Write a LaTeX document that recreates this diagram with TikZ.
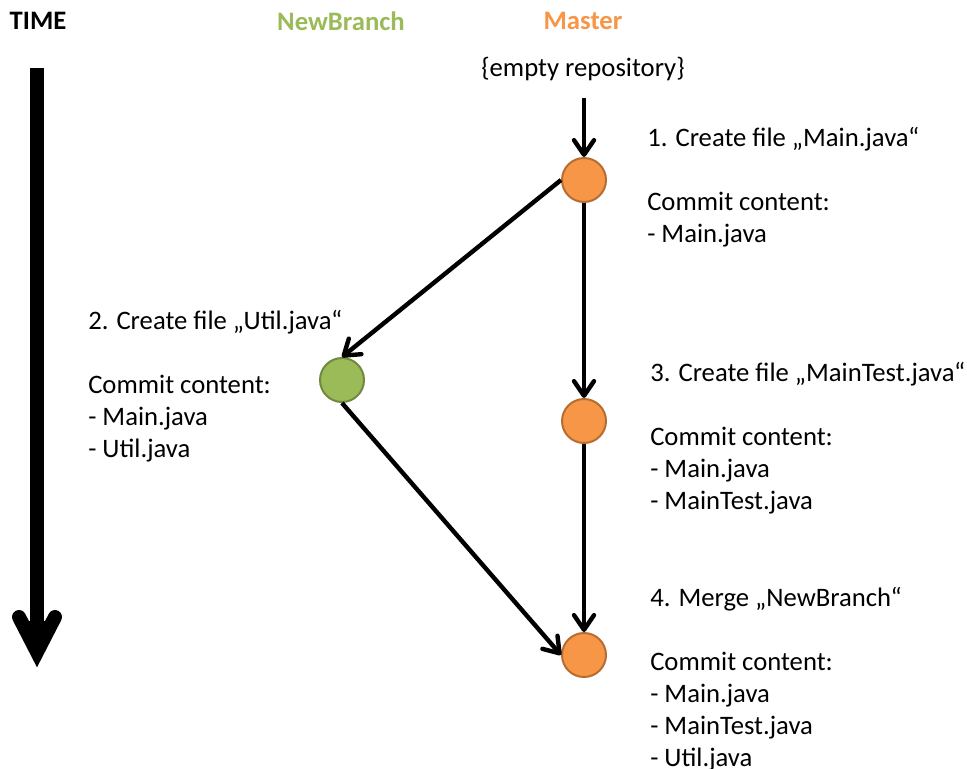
\documentclass[tikz,border=0pt]{standalone}
\usepackage{fontspec}
\setmainfont{Carlito}
\usetikzlibrary{arrows.meta}
\definecolor{mfill}{HTML}{F79646}
\definecolor{mdraw}{HTML}{B66D31}
\definecolor{bfill}{HTML}{9BBB59}
\definecolor{bdraw}{HTML}{71893F}
\newcommand{\commitlines}[1]{\begin{tabular}[t]{@{}l@{}}#1\end{tabular}}
\tikzset{
  txt/.style={inner sep=0pt, font=\fontsize{20}{24}\selectfont},
  head/.style={txt, font=\fontsize{20}{24}\selectfont\bfseries},
  block/.style={txt, anchor=base west},
  commit/.style={circle, minimum size=33pt, inner sep=0pt, line width=1.5pt},
  master/.style={commit, fill=mfill, draw=mdraw},
  branch/.style={commit, fill=bfill, draw=bdraw},
  link/.style={line width=3.3pt, -{Straight Barb[length=11pt,width=15pt,line cap=round,line join=round]}},
}
\begin{document}
\begin{tikzpicture}[x=0.75pt, y=-0.75pt]
\useasboundingbox (0,0) rectangle (967,768);

% column headings
\node[head] (time) at (38,21) {TIME};
\node[head, text=bfill] (hbranch) at (341,21) {NewBranch};
\node[head, text=mfill] (hmaster) at (583,21) {Master};
\node[txt] (empty) at (583,69) {\{empty repository\}};

% time axis
\coordinate (tstart) at (37,68);
\coordinate (tend) at (37,640);
\draw[line width=10.5pt] (tstart) -- (tend);
\draw[line width=10.5pt, line cap=round, miter limit=20] (19,617) -- (37,652) -- (55,617);
\fill (24,621) -- (37,646) -- (50,621) -- cycle;

% commits
\node[master] (c1) at (584,180) {};
\node[branch] (c2) at (342,380) {};
\node[master] (c3) at (584,421) {};
\node[master] (c4) at (584,655) {};

% history
\coordinate (root) at (584,98);
\draw[link] (root) -- (c1.north);
\draw[link] (c1.west) -- (c2.north);
\draw[link] (c1.south) -- (c3.north);
\draw[link] (c2.south) -- (c4.west);
\draw[link] (c3.south) -- (c4.north);

% commit descriptions
\renewcommand{\arraystretch}{1}
\setlength{\tabcolsep}{0pt}
\node[block] (d1) at (647,146) {\commitlines{1. Create file „Main.java“\\ \\Commit content:\\- Main.java}};
\node[block] (d2) at (88,329) {\commitlines{2. Create file „Util.java“\\ \\Commit content:\\- Main.java\\- Util.java}};
\node[block] (d3) at (650,381) {\commitlines{3. Create file „MainTest.java“\\ \\Commit content:\\- Main.java\\- MainTest.java}};
\node[block] (d4) at (650,606) {\commitlines{4. Merge „NewBranch“\\ \\Commit content:\\- Main.java\\- MainTest.java\\- Util.java}};
\end{tikzpicture}
\end{document}
